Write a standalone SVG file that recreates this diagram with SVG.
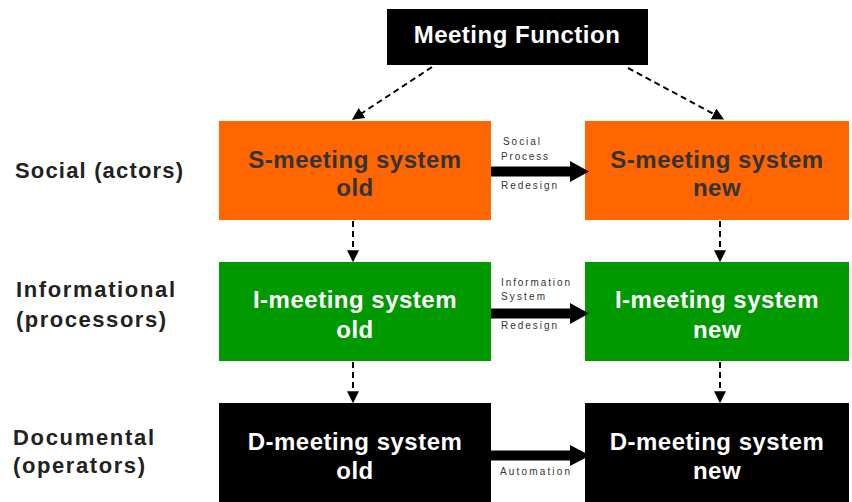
<svg xmlns="http://www.w3.org/2000/svg" width="852" height="502" viewBox="0 0 852 502">
<defs>
<style>
.bt{font-family:"Liberation Sans",Arial,sans-serif;font-weight:bold;font-size:24px;text-anchor:middle;letter-spacing:0.5px}
.lbl{font-family:"Liberation Sans",Arial,sans-serif;font-weight:bold;font-size:22px;fill:#222}
.sm{font-family:"Liberation Sans",Arial,sans-serif;font-size:10px;fill:#333}
.dash{stroke:#000;stroke-width:2;stroke-dasharray:6 4;fill:none}
.thick{fill:#000}
</style>
<marker id="ah" viewBox="0 0 10 10" refX="9" refY="5" markerWidth="6" markerHeight="6" orient="auto" markerUnits="strokeWidth">
<path d="M0,0 L10,5 L0,10 z" fill="#000"/>
</marker>
</defs>
<rect width="852" height="502" fill="#fff"/>

<g id="meeting-function">
<rect x="387" y="9" width="261" height="56" fill="#000"/>
<text class="bt" x="517" y="43" fill="#fff">Meeting Function</text>
</g>

<g id="s-old">
<rect x="219" y="121" width="272" height="99" fill="#ff6600"/>
<text class="bt" x="355" y="168" fill="#333">S-meeting system</text>
<text class="bt" x="355" y="196" fill="#333">old</text>
</g>
<g id="s-new">
<rect x="585" y="121" width="264" height="99" fill="#ff6600"/>
<text class="bt" x="717" y="168" fill="#333">S-meeting system</text>
<text class="bt" x="717" y="196" fill="#333">new</text>
</g>
<g id="i-old">
<rect x="219" y="262" width="272" height="99" fill="#009900"/>
<text class="bt" x="355" y="308" fill="#fff">I-meeting system</text>
<text class="bt" x="355" y="338" fill="#fff">old</text>
</g>
<g id="i-new">
<rect x="585" y="262" width="264" height="99" fill="#009900"/>
<text class="bt" x="717" y="308" fill="#fff">I-meeting system</text>
<text class="bt" x="717" y="338" fill="#fff">new</text>
</g>
<g id="d-old">
<rect x="219" y="403" width="272" height="99" fill="#000"/>
<text class="bt" x="355" y="450" fill="#fff">D-meeting system</text>
<text class="bt" x="355" y="479" fill="#fff">old</text>
</g>
<g id="d-new">
<rect x="585" y="403" width="264" height="99" fill="#000"/>
<text class="bt" x="717" y="450" fill="#fff">D-meeting system</text>
<text class="bt" x="717" y="479" fill="#fff">new</text>
</g>

<g id="row-labels">
<text class="lbl" x="15" y="178" textLength="168">Social (actors)</text>
<text class="lbl" x="16" y="297" textLength="159">Informational</text>
<text class="lbl" x="16" y="327" textLength="150">(processors)</text>
<text class="lbl" x="13" y="445" textLength="141">Documental</text>
<text class="lbl" x="13" y="473" textLength="132">(operators)</text>
</g>

<g id="connectors">
<line class="dash" x1="432" y1="67" x2="353" y2="119" marker-end="url(#ah)"/>
<line class="dash" x1="628" y1="68" x2="723" y2="119" marker-end="url(#ah)"/>
<line class="dash" x1="353" y1="221" x2="353" y2="261" marker-end="url(#ah)"/>
<line class="dash" x1="353" y1="362" x2="353" y2="402" marker-end="url(#ah)"/>
<line class="dash" x1="720" y1="221" x2="720" y2="261" marker-end="url(#ah)"/>
<line class="dash" x1="720" y1="362" x2="720" y2="402" marker-end="url(#ah)"/>

<path class="thick" d="M491,166.5 L570,166.5 L570,161 L589,171.5 L570,182 L570,176.5 L491,176.5 z"/>
<path class="thick" d="M491,308.5 L570,308.5 L570,303 L589,313.5 L570,324 L570,318.5 L491,318.5 z"/>
<path class="thick" d="M491,450.5 L570,450.5 L570,445 L590,455.5 L570,466 L570,460.5 L491,460.5 z"/>

<text class="sm" x="503" y="145" textLength="37">Social</text>
<text class="sm" x="501" y="160" textLength="47">Process</text>
<text class="sm" x="501" y="189" textLength="56">Redesign</text>
<text class="sm" x="501" y="286" textLength="69">Information</text>
<text class="sm" x="501" y="300" textLength="44">System</text>
<text class="sm" x="501" y="329" textLength="56">Redesign</text>
<text class="sm" x="500" y="475" textLength="70">Automation</text>
</g>
</svg>
